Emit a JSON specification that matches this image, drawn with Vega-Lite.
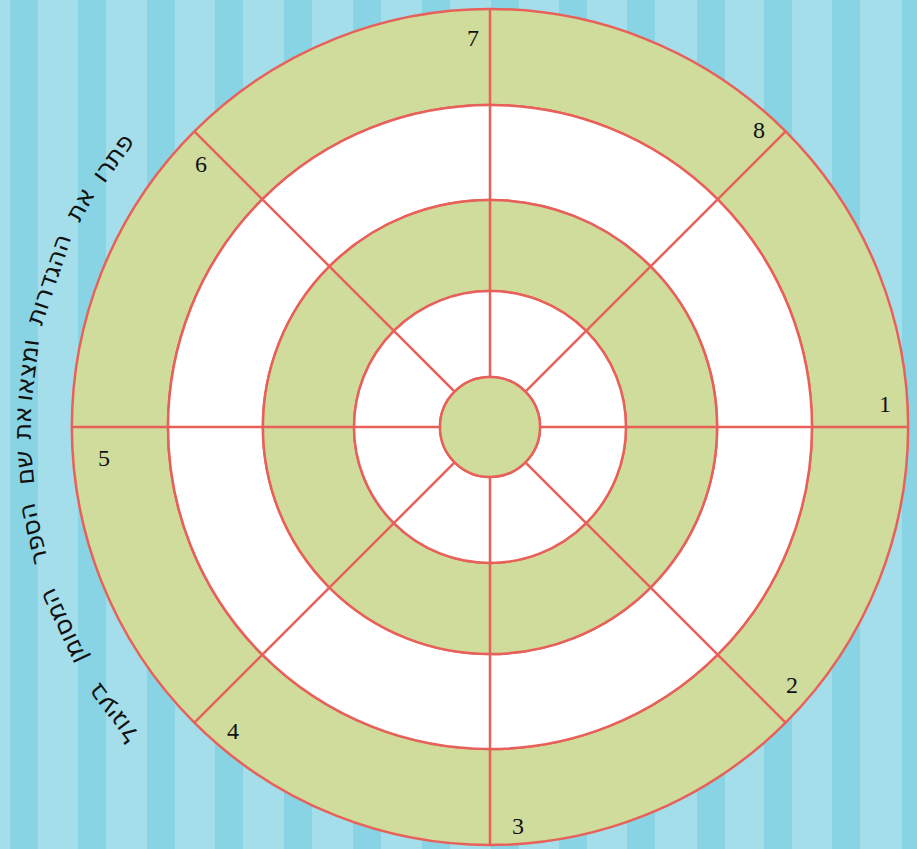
{
  "$schema": "https://vega.github.io/schema/vega-lite/v6.json",
  "width": 917,
  "height": 849,
  "autosize": "none",
  "padding": 0,
  "background": "#a4deea",
  "view": {"stroke": null},
  "datasets": {
    "stripes": [
      {"x0": -480, "x1": -452}, {"x0": -412, "x1": -384}, {"x0": -343, "x1": -315},
      {"x0": -275, "x1": -247}, {"x0": -206, "x1": -178}, {"x0": -137, "x1": -109},
      {"x0": -68, "x1": -40}, {"x0": 1, "x1": 29}, {"x0": 69, "x1": 97},
      {"x0": 137, "x1": 165}, {"x0": 207, "x1": 235}, {"x0": 274, "x1": 302},
      {"x0": 342, "x1": 370}, {"x0": 412, "x1": 440}
    ],
    "rings": [
      {"r0": 322, "r1": 418, "kind": "g"},
      {"r0": 227, "r1": 322, "kind": "w"},
      {"r0": 136, "r1": 227, "kind": "g"},
      {"r0": 50, "r1": 136, "kind": "w"},
      {"r0": 0, "r1": 50, "kind": "g"}
    ],
    "spokes": [
      {"xa": 0, "ya": 50, "xb": 0, "yb": 418},
      {"xa": 35.4, "ya": 35.4, "xb": 295.6, "yb": 295.6},
      {"xa": 50, "ya": 0, "xb": 418, "yb": 0},
      {"xa": 35.4, "ya": -35.4, "xb": 295.6, "yb": -295.6},
      {"xa": 0, "ya": -50, "xb": 0, "yb": -418},
      {"xa": -35.4, "ya": -35.4, "xb": -295.6, "yb": -295.6},
      {"xa": -50, "ya": 0, "xb": -418, "yb": 0},
      {"xa": -35.4, "ya": 35.4, "xb": -295.6, "yb": 295.6}
    ],
    "numbers": [
      {"n": "1", "x": 395, "y": 22},
      {"n": "2", "x": 302, "y": -259},
      {"n": "3", "x": 28, "y": -400},
      {"n": "4", "x": -257, "y": -305},
      {"n": "5", "x": -386, "y": -32},
      {"n": "6", "x": -289, "y": 262},
      {"n": "7", "x": -17, "y": 388},
      {"n": "8", "x": 269, "y": 296}
    ],
    "words": [
      {"w": "פתרו", "deg": 305.5, "r": 463},
      {"w": "את", "deg": 298.5, "r": 466},
      {"w": "ההגדרות", "deg": 288.5, "r": 465},
      {"w": "ומצאו", "deg": 277, "r": 466},
      {"w": "את", "deg": 270.5, "r": 467},
      {"w": "שם", "deg": 265, "r": 467},
      {"w": "הספר", "deg": 256.8, "r": 469},
      {"w": "המסומן", "deg": 245, "r": 471},
      {"w": "בעיגול", "deg": 232.8, "r": 473}
    ]
  },
  "layer": [
    {
      "data": {"name": "stripes"},
      "mark": {"type": "rect", "color": "#88d4e4"},
      "encoding": {
        "x": {"field": "x0", "type": "quantitative", "scale": {"domain": [-490, 427], "nice": false, "zero": false}, "axis": null},
        "x2": {"field": "x1"}
      }
    },
    {
      "data": {"name": "rings"},
      "mark": {"type": "arc", "theta": 0, "theta2": 6.2832, "stroke": "#e8605a", "strokeWidth": 2.5},
      "encoding": {
        "x": {"datum": 0, "type": "quantitative", "scale": {"domain": [-490, 427], "nice": false, "zero": false}, "axis": null},
        "y": {"datum": 0, "type": "quantitative", "scale": {"domain": [-422, 427], "nice": false, "zero": false}, "axis": null},
        "radius": {"field": "r1", "type": "quantitative", "scale": {"type": "linear", "domain": [0, 418], "range": [0, 418], "zero": true}},
        "radius2": {"field": "r0"},
        "fill": {"field": "kind", "type": "nominal", "scale": {"domain": ["g", "w"], "range": ["#cfdc9b", "#ffffff"]}, "legend": null}
      }
    },
    {
      "data": {"name": "spokes"},
      "mark": {"type": "rule", "stroke": "#e8605a", "strokeWidth": 2.5},
      "encoding": {
        "x": {"field": "xa", "type": "quantitative", "scale": {"domain": [-490, 427], "nice": false, "zero": false}, "axis": null},
        "y": {"field": "ya", "type": "quantitative", "scale": {"domain": [-422, 427], "nice": false, "zero": false}, "axis": null},
        "x2": {"field": "xb"},
        "y2": {"field": "yb"}
      }
    },
    {
      "data": {"name": "numbers"},
      "mark": {"type": "text", "font": "Liberation Serif", "fontSize": 24, "color": "#111111", "align": "center", "baseline": "middle"},
      "encoding": {
        "x": {"field": "x", "type": "quantitative", "axis": null},
        "y": {"field": "y", "type": "quantitative", "axis": null},
        "text": {"field": "n"}
      }
    },
    {
      "data": {"name": "words"},
      "mark": {"type": "text", "font": "DejaVu Sans", "fontSize": 25, "color": "#111111", "align": "center", "baseline": "middle"},
      "encoding": {
        "x": {"datum": 0, "type": "quantitative", "axis": null},
        "y": {"datum": 0, "type": "quantitative", "axis": null},
        "theta": {"field": "deg", "type": "quantitative", "scale": {"domain": [0, 360], "range": [0, 6.283185307]}},
        "radius": {"field": "r", "type": "quantitative"},
        "angle": {"field": "deg", "type": "quantitative", "scale": {"domain": [0, 360], "range": [0, 360]}},
        "text": {"field": "w"}
      }
    }
  ]
}
